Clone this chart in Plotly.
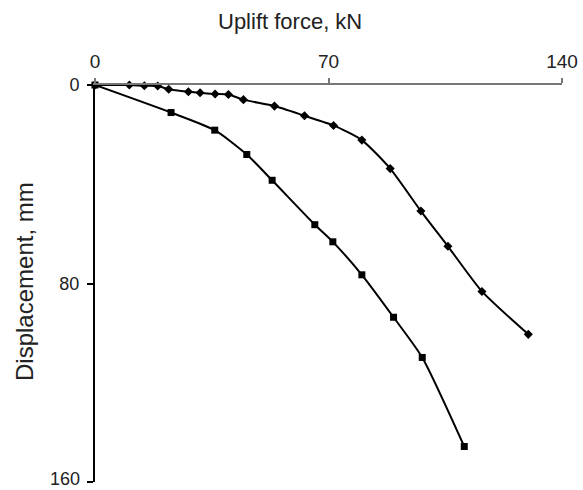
import plotly.graph_objects as go

# Series A (diamond markers)
force_a = [0, 10.3, 14.8, 18.8, 22.1, 28.0, 31.5, 36.0, 40.0, 44.5, 53.8, 62.8, 71.5, 80.0, 88.5, 97.7, 105.8, 116.0, 129.9]
disp_a = [0, 0, 0.3, 0.4, 1.7, 2.7, 3.1, 3.6, 3.8, 5.9, 8.5, 12.4, 16.3, 22.2, 33.7, 50.8, 65.0, 83.2, 100.5]

# Series B (square markers)
force_b = [0, 22.8, 35.9, 45.5, 53.1, 65.9, 71.3, 80.0, 89.5, 98.1, 110.7]
disp_b = [0, 11.1, 18.2, 28.0, 38.4, 56.3, 63.2, 76.5, 93.6, 109.8, 145.7]

x_ticks = [0, 70, 140]
y_ticks = [0, 80, 160]

FONT = "Liberation Sans, Arial, sans-serif"

fig = go.Figure()
fig.add_trace(go.Scatter(
    x=force_a, y=disp_a, mode="lines+markers",
    line=dict(color="black", width=2, shape="spline", smoothing=0.6),
    marker=dict(symbol="diamond", size=7, color="black"),
    cliponaxis=False, showlegend=False))
fig.add_trace(go.Scatter(
    x=force_b, y=disp_b, mode="lines+markers",
    line=dict(color="black", width=2, shape="spline", smoothing=0.6),
    marker=dict(symbol="square", size=7, color="black"),
    cliponaxis=False, showlegend=False))

# last y tick label drawn as an annotation so it stays inside the page
y_ticktext = [str(v) for v in y_ticks[:-1]] + [""]

fig.update_layout(
    width=583, height=490,
    margin=dict(l=95, r=21, t=85, b=8),
    plot_bgcolor="white", paper_bgcolor="white",
    font=dict(family=FONT, size=19, color="#222"),
    xaxis=dict(
        side="top", range=[0, 140], tickvals=x_ticks, ticktext=[str(v) for v in x_ticks],
        showgrid=False, zeroline=False, showline=True, linecolor="#777", linewidth=1.5,
        ticks="outside", ticklen=5, tickcolor="#777", tickwidth=1.5,
        tickfont=dict(size=19), ticklabeloverflow="allow", ticklabelstandoff=3,
        automargin=False),
    yaxis=dict(
        range=[160, 0], tickvals=y_ticks, ticktext=y_ticktext,
        showgrid=False, zeroline=False, showline=True, linecolor="black", linewidth=2,
        ticks="outside", ticklen=6, tickcolor="black", tickwidth=1.5,
        tickfont=dict(size=18), ticklabeloverflow="allow", ticklabelstandoff=4,
        automargin=False),
    annotations=[
        dict(text="Uplift force, kN", x=290, y=21, xref="paper", yref="paper",
             xanchor="center", yanchor="middle",
             showarrow=False, font=dict(size=22, family=FONT, color="#222")),
        dict(text="Displacement, mm", x=24, y=282, xref="paper", yref="paper",
             xanchor="center", yanchor="middle",
             showarrow=False, textangle=-90, font=dict(size=24, family=FONT, color="#222")),
        dict(text=str(y_ticks[-1]), x=81, y=490, xref="paper", yref="paper",
             xanchor="right", yanchor="bottom", borderpad=0,
             showarrow=False, font=dict(size=18, family=FONT, color="#222")),
    ],
)

# convert pixel positions of annotations to paper coordinates
pw = 583 - 95 - 21
ph = 490 - 85 - 8
for a in fig.layout.annotations:
    px, py = a.x, a.y
    a.x = (px - 95) / pw
    a.y = 1 - (py - 85) / ph

fig.write_html("out.html")
